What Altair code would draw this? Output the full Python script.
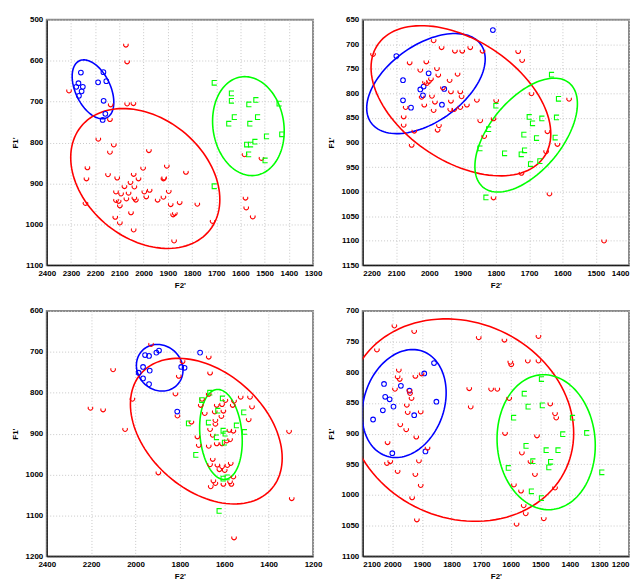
import altair as alt
import pandas as pd
import numpy as np

# ---------------- Panel 1 (top-left) ----------------
p1_blue_x = [2259, 2166, 2269, 2278, 2251, 2188, 2154, 2256, 2267, 2165, 2158, 2169]
p1_blue_y = [629, 628, 655, 664, 664, 653, 650, 675, 686, 698, 730, 745]
p1_red_x = [2073, 2068, 2308, 2136, 2068, 2042, 2139, 2187, 2123, 2139, 1978, 2232, 2236, 2147,
            2109, 2041, 2002, 2021, 1904, 1918, 1825, 2114, 2093, 2079, 2054, 2038, 1997, 1975,
            2062, 2071, 2114, 2103, 2098, 2038, 2032, 1942, 1918, 1896, 1888, 1851, 1778, 2117,
            2098, 2052, 2041, 1878, 1871, 1874, 2240, 1715, 1579, 1576, 1549, 1583, 1513, 1989, 1915]
p1_red_y = [561, 602, 673, 707, 705, 704, 743, 791, 805, 823, 819, 861, 888, 878,
            886, 877, 862, 888, 857, 888, 872, 920, 925, 907, 897, 908, 920, 916,
            923, 937, 941, 943, 954, 935, 940, 940, 933, 919, 951, 946, 950, 982,
            996, 971, 1013, 976, 973, 1040, 948, 992, 935, 959, 981, 829, 838, 932, 886]
p1_green_x = [1707, 1636, 1636, 1564, 1535, 1439, 1624, 1647, 1560, 1528, 1491, 1428, 1573, 1557,
              1539, 1565, 1497, 1707]
p1_green_y = [654, 680, 698, 707, 696, 705, 738, 754, 754, 738, 785, 780, 805, 805,
              798, 829, 844, 907]
p1_x_ticks = [2400, 2300, 2200, 2100, 2000, 1900, 1800, 1700, 1600, 1500, 1400, 1300]
p1_y_ticks = [500, 600, 700, 800, 900, 1000, 1100]
# ellipse: group, centre x, centre y, half-extent x, half-extent y, correlation
p1_ellipses = [("b", 2209, 670, 86, 72, -0.44),
               ("r", 1993, 888, 308, 171, -0.30),
               ("g", 1567, 760, 148, 121, -0.10)]

# ---------------- Panel 2 (top-right) ----------------
p2_blue_x = [2099, 1809, 2079, 2002, 2027, 2017, 2019, 1955, 2079, 2055, 1962]
p2_blue_y = [724, 671, 773, 759, 792, 786, 804, 791, 814, 829, 823]
p2_red_x = [2169, 1987, 1963, 1923, 1901, 1877, 1840, 1733, 1721, 2059, 2027, 2009, 1977, 1973,
            1915, 1939, 1995, 2001, 2007, 2013, 2023, 1992, 1959, 1935, 1907, 1903, 1935, 1983,
            2015, 2071, 2077, 2077, 2045, 2053, 1971, 1975, 1987, 1937, 1925, 1907, 1887, 1857,
            1799, 1807, 1847, 1835, 1693, 1580, 1645, 1615, 1649, 1723, 1807, 1639, 1475]
p2_red_y = [720, 692, 706, 713, 713, 706, 713, 714, 732, 737, 752, 735, 749, 762,
            760, 773, 770, 775, 779, 777, 807, 805, 788, 796, 796, 806, 815, 817,
            823, 828, 847, 864, 876, 905, 865, 874, 834, 832, 832, 828, 823, 813,
            814, 851, 855, 887, 800, 811, 877, 903, 918, 962, 1012, 1004, 1100]
p2_green_x = [1632, 1799, 1611, 1699, 1661, 1617, 1689, 1821, 1715, 1677, 1621, 1847, 1773, 1723,
              1713, 1695, 1667, 1829]
p2_green_y = [762, 825, 811, 848, 851, 849, 861, 873, 884, 891, 890, 912, 922, 924,
              916, 944, 938, 1012]
p2_x_ticks = [2200, 2100, 2000, 1900, 1800, 1700, 1600, 1500, 1400]
p2_y_ticks = [650, 700, 750, 800, 850, 900, 950, 1000, 1050, 1100, 1150]
p2_ellipses = [("b", 2010, 780, 178, 102, 0.49),
               ("r", 1905, 815, 270, 153, -0.44),
               ("g", 1709, 885, 154, 116, 0.55)]

# ---------------- Panel 3 (bottom-left) ----------------
p3_blue_x = [1957, 1939, 1906, 1894, 1966, 1986, 1936, 1966, 1939, 1794, 1779, 1709, 1812]
p3_blue_y = [708, 710, 702, 697, 737, 751, 746, 765, 779, 737, 739, 702, 846]
p3_red_x = [1930, 2101, 2203, 2146, 2047, 2014, 1897, 1788, 1805, 1820, 1811, 1748, 1670, 1664,
            1721, 1706, 1688, 1700, 1670, 1634, 1643, 1640, 1610, 1604, 1613, 1595, 1640, 1664,
            1652, 1634, 1610, 1589, 1574, 1559, 1577, 1562, 1556, 1526, 1484, 1475, 1490, 1670,
            1652, 1664, 1631, 1610, 1622, 1598, 1586, 1571, 1649, 1640, 1661, 1604, 1574, 1568,
            1559, 1715, 1308, 1296, 1556]
p3_red_y = [681, 743, 837, 841, 889, 815, 995, 723, 759, 802, 856, 871, 712, 751,
            907, 830, 850, 815, 803, 830, 846, 867, 828, 844, 857, 818, 876, 889,
            903, 924, 924, 917, 914, 893, 891, 830, 820, 810, 810, 834, 865, 930,
            962, 975, 976, 980, 987, 989, 977, 972, 1015, 1021, 1029, 1023, 1017, 1023,
            1005, 928, 894, 1058, 1154]
p3_green_x = [1664, 1700, 1607, 1628, 1511, 1760, 1670, 1544, 1508, 1604, 1595, 1634, 1598, 1727,
              1604, 1586, 1622]
p3_green_y = [800, 818, 814, 844, 848, 875, 873, 880, 896, 893, 900, 909, 922, 952,
              1010, 1007, 1089]
p3_x_ticks = [2400, 2200, 2000, 1800, 1600, 1400, 1200]
p3_y_ticks = [600, 700, 800, 900, 1000, 1100, 1200]
p3_ellipses = [("b", 1891, 739, 105, 57, -0.10),
               ("r", 1681, 894, 342, 178, -0.37),
               ("g", 1615, 902, 96, 110, -0.15)]

# ---------------- Panel 4 (bottom-right) ----------------
p4_blue_x = [1859, 1892, 2028, 1971, 2024, 2009, 1996, 2032, 1942, 1926, 2065, 1851, 1888, 2000]
p4_blue_y = [785, 802, 819, 822, 840, 844, 856, 862, 830, 870, 877, 848, 929, 932]
p4_red_x = [1993, 1926, 2052, 1708, 1621, 1506, 1601, 1598, 1542, 1506, 1978, 1982, 1975, 1922,
            1901, 1991, 1942, 1940, 1935, 1951, 1948, 1904, 1740, 1666, 1645, 1735, 1605, 1466,
            1450, 1446, 1973, 1953, 1919, 2016, 1881, 1619, 1511, 1562, 1533, 1910, 2018, 2007,
            1982, 1922, 1904, 1933, 1917, 1589, 1565, 1556, 1549, 1580, 1488, 1450, 1518]
p4_red_y = [724, 733, 763, 743, 747, 741, 783, 787, 781, 781, 796, 807, 811, 806,
            802, 827, 829, 834, 842, 853, 865, 864, 826, 827, 827, 856, 842, 851,
            867, 874, 885, 893, 905, 914, 923, 899, 903, 931, 945, 944, 948, 945,
            961, 966, 984, 1004, 1040, 983, 993, 1017, 1030, 1047, 1038, 988, 966]
p4_green_x = [1495, 1553, 1540, 1492, 1589, 1390, 1423, 1342, 1547, 1479, 1439, 1524, 1464, 1470,
              1607, 1529, 1495, 1291]
p4_green_y = [811, 835, 856, 854, 874, 874, 901, 899, 920, 927, 927, 945, 946, 955,
              956, 994, 1005, 963]
p4_x_ticks = [2100, 2000, 1900, 1800, 1700, 1600, 1500, 1400, 1300, 1200]
p4_y_ticks = [700, 750, 800, 850, 900, 950, 1000, 1050, 1100]
p4_ellipses = [("b", 1960, 851, 142, 88, 0.20),
               ("r", 1769, 878, 382, 165, -0.13),
               ("g", 1480, 914, 166, 110, -0.05)]

GROUPS = ["b", "r", "g"]
COLORS = ["#0000ff", "#ff0000", "#00ff00"]
RED_SHAPE = "M -0.9 -0.45 A 1 1 0 1 0 0.9 -0.45"
GREEN_SHAPE = "M 1 -1 L -1 -1 L -1 1 L 1 1"
SHAPES = ["circle", RED_SHAPE, GREEN_SHAPE]

W, H = 268, 247


def points_df(bx, by, rx, ry, gx, gy):
    rows = []
    for g, xs, ys in (("b", bx, by), ("r", rx, ry), ("g", gx, gy)):
        for x, y in zip(xs, ys):
            rows.append({"x": x, "y": y, "g": g})
    return pd.DataFrame(rows)


def ellipse_df(ells):
    rows = []
    t = np.linspace(0, 2 * np.pi, 121)
    for g, cx, cy, sx, sy, r in ells:
        xs = cx + sx * np.cos(t)
        ys = cy + sy * (r * np.cos(t) + np.sqrt(1 - r * r) * np.sin(t))
        for i, (x, y) in enumerate(zip(xs, ys)):
            rows.append({"x": x, "y": y, "g": g, "i": i})
    return pd.DataFrame(rows)


def panel(pts, ells, xticks, yticks, flush):
    xdom = [min(xticks), max(xticks)]
    ydom = [min(yticks), max(yticks)]
    xenc = alt.X("x:Q", scale=alt.Scale(domain=xdom, reverse=True, nice=False, zero=False),
                 axis=alt.Axis(values=xticks, format="d", title="F2'", labelFlush=flush,
                               labelOverlap=False))
    yenc = alt.Y("y:Q", scale=alt.Scale(domain=ydom, reverse=True, nice=False, zero=False),
                 axis=alt.Axis(values=yticks, format="d", title="F1'", labelOverlap=False))
    col = alt.Color("g:N", scale=alt.Scale(domain=GROUPS, range=COLORS), legend=None)
    lines = alt.Chart(ellipse_df(ells)).mark_line(strokeWidth=1.6, clip=True).encode(
        x=xenc, y=yenc, color=col, detail="g:N", order="i:Q")
    dots = alt.Chart(pts).mark_point(filled=False, strokeWidth=1.1, size=22, clip=True, opacity=1).encode(
        x=xenc, y=yenc, color=col,
        shape=alt.Shape("g:N", scale=alt.Scale(domain=GROUPS, range=SHAPES), legend=None))
    return alt.layer(lines, dots).resolve_scale(color="shared").properties(width=W, height=H)


c1 = panel(points_df(p1_blue_x, p1_blue_y, p1_red_x, p1_red_y, p1_green_x, p1_green_y),
           p1_ellipses, p1_x_ticks, p1_y_ticks, False)
c2 = panel(points_df(p2_blue_x, p2_blue_y, p2_red_x, p2_red_y, p2_green_x, p2_green_y),
           p2_ellipses, p2_x_ticks, p2_y_ticks, True)
c3 = panel(points_df(p3_blue_x, p3_blue_y, p3_red_x, p3_red_y, p3_green_x, p3_green_y),
           p3_ellipses, p3_x_ticks, p3_y_ticks, False)
c4 = panel(points_df(p4_blue_x, p4_blue_y, p4_red_x, p4_red_y, p4_green_x, p4_green_y),
           p4_ellipses, p4_x_ticks, p4_y_ticks, True)

chart = alt.concat(c1, c2, c3, c4, columns=2, spacing={"row": 46, "column": 50},
                   bounds="flush").resolve_scale(x="independent", y="independent").properties(
    padding={"left": 2, "top": 5, "right": 0, "bottom": 0}
).configure_view(
    stroke="#8a8a8a", strokeWidth=2
).configure_axis(
    labelFont="Liberation Sans", labelFontWeight="bold", labelFontSize=8, labelColor="#000000",
    titleFont="Liberation Sans", titleFontWeight="bold", titleFontSize=8, titleColor="#000000",
    domainColor="#000000", domainWidth=1, ticks=False, labelPadding=4,
    gridColor="#c8c8c8", gridDash=[1, 2], gridWidth=1,
).configure_axisX(titlePadding=4).configure_axisY(titlePadding=6)

chart.save("out.html", embed_options={"renderer": "svg", "actions": False})
